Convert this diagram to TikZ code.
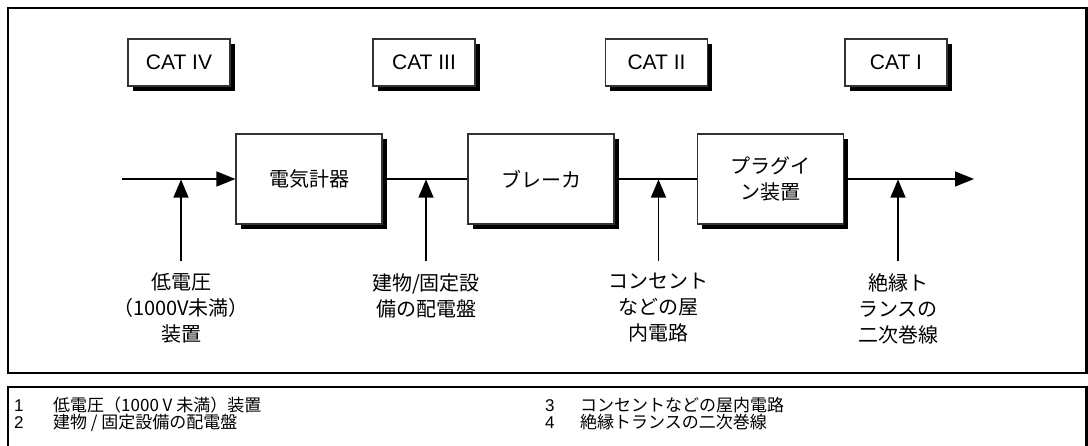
\documentclass[tikz,border=0pt]{standalone}
\usepackage{fontspec}
\setmainfont{Liberation Sans}
\newfontfamily\jp{Noto Sans CJK JP}
\usetikzlibrary{arrows.meta,shadows}
\tikzset{
  frameline/.style={line width=2.5pt,black},
  boxshadow/.style={drop shadow={shadow xshift=4.5pt,shadow yshift=-4.5pt,fill=black,opacity=1}},
  catbox/.style={draw=black!80,line width=1.1pt,fill=white,boxshadow,minimum width=102pt,minimum height=47pt,inner sep=0pt,font=\fontsize{21}{25}\selectfont},
  devbox/.style={draw=black!80,line width=1.1pt,fill=white,boxshadow,minimum width=146pt,minimum height=90pt,inner sep=0pt,align=center,font=\jp\fontsize{20}{26}\selectfont},
  wire/.style={line width=1.2pt,black},
  arr/.style={wire,-{Triangle[length=19pt,width=15pt]}},
  uparr/.style={wire,-{Triangle[length=18pt,width=15pt]}},
  lbl/.style={align=center,inner sep=0pt,anchor=north,font=\jp\fontsize{20}{26}\selectfont},
  legnum/.style={anchor=base west,inner sep=0pt,font=\fontsize{17}{17}\selectfont},
  legtxt/.style={anchor=base west,inner sep=0pt,font=\jp\fontsize{17}{17}\selectfont}
}
\begin{document}
\begin{tikzpicture}[x=1pt,y=-1pt]
\useasboundingbox (0,0) rectangle (1088,445);
% frames
\draw[frameline] (8,8) rectangle (1086.5,373);
\draw[frameline] (8,446) -- (8,387) -- (1086.5,387) -- (1086.5,446);
% CAT boxes
\node[catbox] (cat4) at (179,62.5) {CAT IV};
\node[catbox] (cat3) at (424,62.5) {CAT III};
\node[catbox] (cat2) at (656.5,62.5) {CAT II};
\node[catbox] (cat1) at (896,62.5) {CAT I};
% device boxes
\node[devbox] (b1) at (309,179) {電気計器};
\node[devbox] (b2) at (541,179) {ブレーカ};
\node[devbox] (b3) at (770.5,179) {プラグイ\\ン装置};
% main line
\coordinate (in) at (122,179);
\coordinate (out) at (974,179);
\draw[arr] (in) -- (b1.west);
\draw[wire] (b1.east) -- (b2.west);
\draw[wire] (b2.east) -- (b3.west);
\draw[arr] (b3.east) -- (out);
% points on the line
\coordinate (p1) at (181,179.5);
\coordinate (p2) at (426,179.5);
\coordinate (p3) at (658.5,179.5);
\coordinate (p4) at (898,179.5);
% labels
\node[lbl] (l1) at (181,273) {低電圧\\（1000V未満）\\装置};
\node[lbl] (l2) at (426,273) {建物/固定設\\備の配電盤};
\node[lbl] (l3) at (658.5,273) {コンセント\\などの屋\\内電路};
\node[lbl] (l4) at (898,273) {絶縁ト\\ランスの\\二次巻線};
\draw[uparr,shorten <=12pt] (l1.north) -- (p1);
\draw[uparr,shorten <=12pt] (l2.north) -- (p2);
\draw[uparr,shorten <=12pt] (l3.north) -- (p3);
\draw[uparr,shorten <=12pt] (l4.north) -- (p4);
% legend
\node[legnum] (n1) at (14,411) {1};
\node[legtxt] (t1) at (53,411) {低電圧（1000 V 未満）装置};
\node[legnum] (n2) at (14,428) {2};
\node[legtxt] (t2) at (53,428) {建物 / 固定設備の配電盤};
\node[legnum] (n3) at (545,411) {3};
\node[legtxt] (t3) at (580,411) {コンセントなどの屋内電路};
\node[legnum] (n4) at (545,428) {4};
\node[legtxt] (t4) at (580,428) {絶縁トランスの二次巻線};
\end{tikzpicture}
\end{document}
